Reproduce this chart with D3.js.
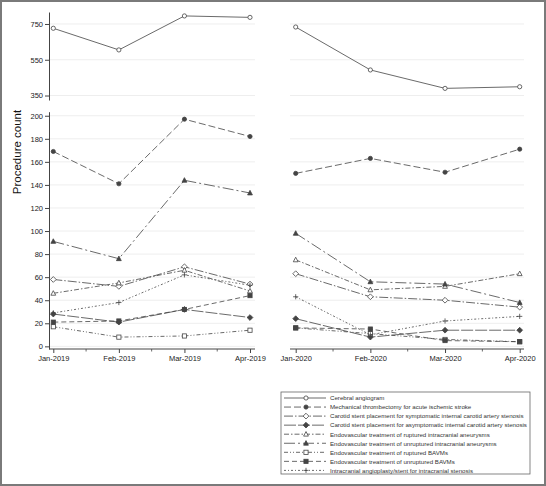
<!DOCTYPE html>
<html><head><meta charset="utf-8">
<script src="https://cdn.jsdelivr.net/npm/d3@7/dist/d3.min.js"></script>
<style>
html,body{margin:0;padding:0;background:#fff;}
svg{display:block;font-family:"Liberation Sans",Arial,sans-serif;}
</style></head>
<body>
<script>
const months2019 = ["Jan-2019","Feb-2019","Mar-2019","Apr-2019"];
const months2020 = ["Jan-2020","Feb-2020","Mar-2020","Apr-2020"];
const topTicks = [350,550,750];
const bottomTicks = [0,20,40,60,80,100,120,140,160,180,200];

const seriesNames = [
  "Cerebral angiogram",
  "Mechanical thrombectomy for acute ischemic stroke",
  "Carotid stent placement for symptomatic internal carotid artery stenosis",
  "Carotid stent placement for asymptomatic internal carotid artery stenosis",
  "Endovascular treatment of ruptured intracranial aneurysms",
  "Endovascular treatment of unruptured intracranial aneurysms",
  "Endovascular treatment of ruptured BAVMs",
  "Endovascular treatment of unruptured BAVMs",
  "Intracranial angioplasty/stent for intracranial stenosis"
];
const values2019 = [
  [726,605,795,787],
  [169,141,197,182],
  [58,52,69,54],
  [28,21,32,25],
  [46,55,66,48],
  [91,76,144,133],
  [17,8,9,14],
  [21,22,32,44],
  [29,38,62,53]
];
const values2020 = [
  [733,493,390,399],
  [150,163,151,171],
  [63,43,40,34],
  [24,8,14,14],
  [75,49,52,63],
  [98,56,54,38],
  [16,11,6,4],
  [16,15,5,4],
  [43,10,22,26]
];
const markers = ["circleOpen","circle","diamondOpen","diamond","triangleOpen","triangle","squareOpen","square","plus"];
const dashes = [null,"7,3","9,2,1.5,2","12,2","5,2,1.5,2","11,3,2,3","4,2,1,2,1,2","5,3","2,2,1,2"];

const W=546,H=486;
const svg=d3.select("body").append("svg").attr("width",W).attr("height",H);
svg.append("rect").attr("x",1).attr("y",1).attr("width",W-2).attr("height",H-2)
  .attr("fill","#fff").attr("stroke","#7a7a7a").attr("stroke-width",2);

const ink="#444";
const yTop=d3.scaleLinear().domain([325,817]).range([100,12]);
const yBot=d3.scaleLinear().domain([-2.3,203.5]).range([349,111.7]);
const xL=d3.scalePoint().domain(months2019).range([53.3,250]);
const xR=d3.scalePoint().domain(months2020).range([295.7,519.7]);
const panels=[{x:xL,x0:49,x1:255,months:months2019,vals:values2019},
              {x:xR,x0:290,x1:524,months:months2020,vals:values2020}];

// gridlines
panels.forEach(p=>{
  svg.append("g").selectAll("line").data(topTicks).join("line")
    .attr("x1",p.x0).attr("x2",p.x1).attr("y1",d=>yTop(d)).attr("y2",d=>yTop(d))
    .attr("stroke","#eeeeee").attr("stroke-width",1);
  svg.append("g").selectAll("line").data(bottomTicks).join("line")
    .attr("x1",p.x0).attr("x2",p.x1).attr("y1",d=>yBot(d)).attr("y2",d=>yBot(d))
    .attr("stroke","#eeeeee").attr("stroke-width",1);
});

// y axes
function styleAxis(g){
  g.select(".domain").attr("stroke",ink).attr("stroke-width",1);
  g.selectAll(".tick line").attr("stroke",ink);
  g.selectAll(".tick text").attr("fill","#222").attr("font-size","7.5px")
   .attr("font-family","'Liberation Sans',Arial,sans-serif");
}
svg.append("g").attr("transform","translate(49,0)")
  .call(d3.axisLeft(yTop).tickValues(topTicks).tickSize(4).tickPadding(2).tickSizeOuter(0))
  .call(styleAxis);
svg.append("g").attr("transform","translate(49,0)")
  .call(d3.axisLeft(yBot).tickValues(bottomTicks).tickSize(4).tickPadding(2).tickSizeOuter(0))
  .call(styleAxis);

// x axes
panels.forEach(p=>{
  svg.append("line").attr("x1",p.x0).attr("x2",p.x1).attr("y1",349).attr("y2",349)
    .attr("stroke",ink).attr("stroke-width",1);
  const ax=svg.append("g").attr("transform","translate(0,349)")
    .call(d3.axisBottom(p.x).tickSize(4).tickPadding(3).tickSizeOuter(0)).call(styleAxis);
  ax.select(".domain").remove();
  // minor ticks at midpoints
  const mids=[];
  for(let i=0;i<p.months.length-1;i++) mids.push((p.x(p.months[i])+p.x(p.months[i+1]))/2);
  svg.append("g").selectAll("line").data(mids).join("line")
    .attr("x1",d=>d).attr("x2",d=>d).attr("y1",349).attr("y2",351.5)
    .attr("stroke",ink).attr("stroke-width",0.8);
});

// y label
svg.append("text").attr("transform","translate(21,152) rotate(-90)")
  .attr("text-anchor","middle").attr("font-size","11.5px").attr("fill","#111")
  .text("Procedure count");

function drawMarker(g,type,x,y){
  const s=2.4;
  const fill=type.endsWith("Open")?"#fff":ink;
  const base=type.replace("Open","");
  if(base==="circle") g.append("circle").attr("cx",x).attr("cy",y).attr("r",2.1).attr("fill",fill).attr("stroke",ink).attr("stroke-width",0.8);
  else if(base==="diamond") g.append("path").attr("d",`M${x},${y-s*1.2}L${x+s*1.2},${y}L${x},${y+s*1.2}L${x-s*1.2},${y}Z`).attr("fill",fill).attr("stroke",ink).attr("stroke-width",0.8);
  else if(base==="triangle") g.append("path").attr("d",`M${x},${y-s*1.1}L${x+s},${y+s*0.8}L${x-s},${y+s*0.8}Z`).attr("fill",fill).attr("stroke",ink).attr("stroke-width",0.8);
  else if(base==="square") g.append("rect").attr("x",x-2.1).attr("y",y-2.1).attr("width",4.2).attr("height",4.2).attr("fill",fill).attr("stroke",ink).attr("stroke-width",0.8);
  else if(base==="plus") g.append("path").attr("d",`M${x-2.6},${y}H${x+2.6}M${x},${y-2.6}V${y+2.6}`).attr("stroke",ink).attr("stroke-width",0.8).attr("fill","none");
}

// series
panels.forEach(p=>{
  p.vals.forEach((vals,i)=>{
    const y=i===0?yTop:yBot;
    const g=svg.append("g");
    const pts=vals.map((v,j)=>[p.x(p.months[j]),y(v)]);
    g.append("path").attr("d",d3.line()(pts)).attr("fill","none")
      .attr("stroke",ink).attr("stroke-width",0.8)
      .attr("stroke-dasharray",dashes[i]);
    pts.forEach(pt=>drawMarker(g,markers[i],pt[0],pt[1]));
  });
});

// legend
const lx=281,ly=392,lw=249,lh=82;
svg.append("clipPath").attr("id","legclip").append("rect").attr("x",lx).attr("y",ly).attr("width",lw).attr("height",lh);
svg.append("rect").attr("x",lx).attr("y",ly).attr("width",lw).attr("height",lh)
  .attr("fill","#fff").attr("stroke","#666").attr("stroke-width",0.8);
const leg=svg.append("g").attr("clip-path","url(#legclip)");
seriesNames.forEach((name,i)=>{
  const yy=398+i*9.05;
  leg.append("line").attr("x1",284).attr("x2",326).attr("y1",yy).attr("y2",yy)
    .attr("stroke",ink).attr("stroke-width",0.8).attr("stroke-dasharray",dashes[i]);
  drawMarker(leg,markers[i],306,yy);
  leg.append("text").attr("x",330).attr("y",yy+2.3).attr("font-size","6.15px").attr("fill","#333").text(name);
});
</script>
</body></html>
